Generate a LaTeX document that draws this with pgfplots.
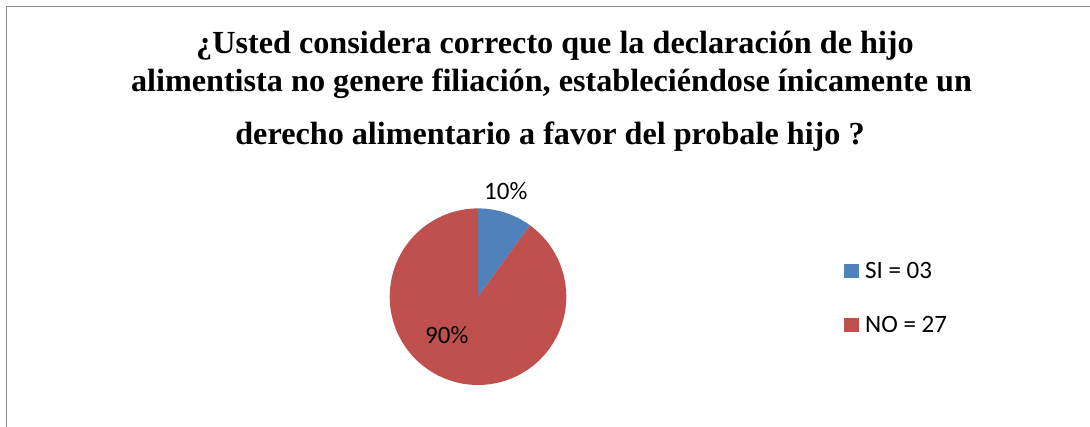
\documentclass[border=0pt]{standalone}
\usepackage{fontspec}
\setmainfont{Liberation Serif}
\newfontfamily\calibri{Carlito}
\usepackage{pgfplots}
\usepackage{pgfplotstable}
\pgfplotsset{compat=1.18}

\definecolor{siblue}{HTML}{4F81BD}
\definecolor{nored}{HTML}{C0504D}
\definecolor{framegray}{HTML}{8C8C8C}

\tikzset{
  lbl/.style={inner sep=0pt, font=\calibri\fontsize{25bp}{25bp}\selectfont},
  ttl/.style={anchor=base, inner sep=0pt, font=\bfseries\fontsize{32.2bp}{32.2bp}\selectfont},
}

% answers to the question (30 people)
\pgfplotstableread{
label value
SI 3
NO 27
}\answers

\begin{document}%
\begin{tikzpicture}
\pgfplotstablegetelem{0}{value}\of\answers \let\vSI\pgfplotsretval
\pgfplotstablegetelem{1}{value}\of\answers \let\vNO\pgfplotsretval
\pgfmathsetmacro\total{\vSI+\vNO}
\pgfmathsetmacro\cut{90-360*\vSI/\total}
\pgfmathsetmacro\pSI{round(100*\vSI/\total)}
\pgfmathsetmacro\pNO{round(100*\vNO/\total)}
\def\cx{478}\def\cy{-296.7}\def\r{88.3}
\begin{axis}[
  name=ax,
  width=1090bp, height=427bp, scale only axis,
  xmin=0, xmax=1090, ymin=-427, ymax=0,
  hide axis, clip=false,
  /pgf/number format/assume math mode=true,
]
\draw[framegray, line width=1.5bp] (axis cs:6.5,-427) -- (axis cs:6.5,-6.5) -- (axis cs:1090,-6.5);

\addplot[siblue, fill=siblue, draw=none, domain=90:\cut, samples=40, variable=\t]
  ({\cx+\r*cos(t)}, {\cy+\r*sin(t)}) -- (axis cs:\cx,\cy) -- cycle;
\addplot[nored, fill=nored, draw=none, domain=\cut:-270, samples=120, variable=\t]
  ({\cx+\r*cos(t)}, {\cy+\r*sin(t)}) -- (axis cs:\cx,\cy) -- cycle;

% data labels
\node[lbl, anchor=base west] at (axis cs:484,-200) {\pgfmathprintnumber[precision=0]{\pSI}\%};
\node[lbl, anchor=base west] at (axis cs:425,-344) {\pgfmathprintnumber[precision=0]{\pNO}\%};

% legend
\fill[siblue] (axis cs:844,-264) rectangle (axis cs:859,-278);
\node[lbl, anchor=base west] at (axis cs:865,-278.5) {SI = 03};
\fill[nored] (axis cs:844,-318.5) rectangle (axis cs:859,-332.5);
\node[lbl, anchor=base west] at (axis cs:865,-333) {NO = 27};

% title
\node[ttl] at (axis cs:555,-54) {¿Usted considera correcto que la declaración de hijo};
\node[ttl] at (axis cs:551.5,-91.7) {alimentista no genere filiación, estableciéndose ínicamente un};
\node[ttl] at (axis cs:550,-145) {derecho alimentario a favor del probale hijo ?};
\end{axis}
\pgfresetboundingbox
\path[use as bounding box] (ax.south west) rectangle (ax.north east);
\end{tikzpicture}%
\end{document}
